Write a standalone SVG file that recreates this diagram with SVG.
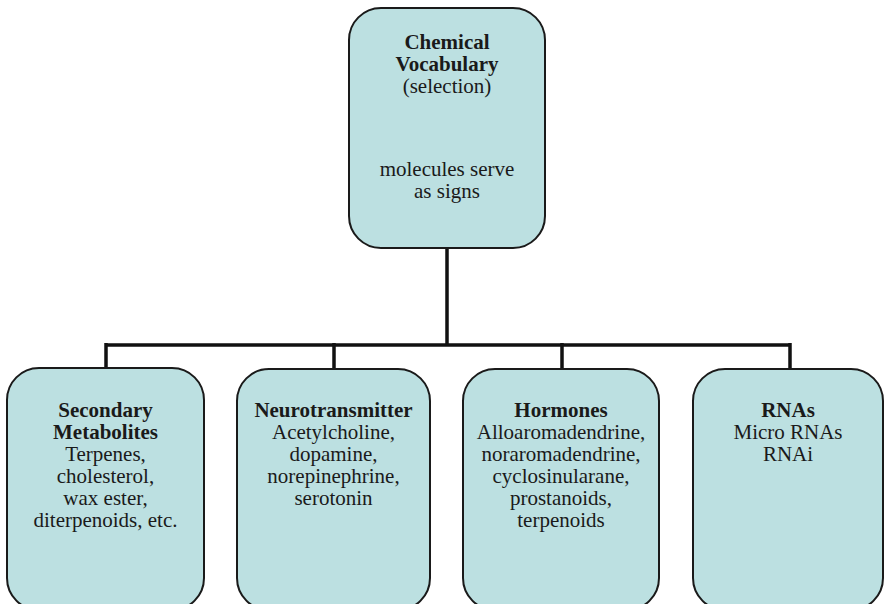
<svg xmlns="http://www.w3.org/2000/svg" width="885" height="604" viewBox="0 0 885 604">
<style>
.box{fill:#bce0e1;stroke:#1a1a1a;stroke-width:2}
.t{font-family:"Liberation Serif","Times New Roman",serif;font-size:21px;fill:#1a1a1a;text-anchor:middle}
.b{font-weight:bold}
.c{fill:none;stroke:#111;stroke-width:3.5}
</style>
<rect width="885" height="604" fill="#fff"/>
<g id="connectors">
<path class="c" d="M447 248V345M106 345H790M106 343V368M334 343V368M562 343V368M790 343V368"/>
</g>
<g id="top">
<rect class="box" x="349" y="8" width="196" height="240" rx="32"/>
<text class="t b" x="447" y="49">Chemical</text>
<text class="t b" x="447" y="71">Vocabulary</text>
<text class="t" x="447" y="93">(selection)</text>
<text class="t" x="447" y="176">molecules serve</text>
<text class="t" x="447" y="198">as signs</text>
</g>
<g id="secondary">
<rect class="box" x="7" y="368" width="197" height="242" rx="32"/>
<text class="t b" x="105.5" y="417">Secondary</text>
<text class="t b" x="105.5" y="439">Metabolites</text>
<text class="t" x="105.5" y="461">Terpenes,</text>
<text class="t" x="105.5" y="483">cholesterol,</text>
<text class="t" x="105.5" y="505">wax ester,</text>
<text class="t" x="105.5" y="527">diterpenoids, etc.</text>
</g>
<g id="neuro">
<rect class="box" x="237" y="369" width="193" height="241" rx="32"/>
<text class="t b" x="333.5" y="417">Neurotransmitter</text>
<text class="t" x="333.5" y="439">Acetylcholine,</text>
<text class="t" x="333.5" y="461">dopamine,</text>
<text class="t" x="333.5" y="483">norepinephrine,</text>
<text class="t" x="333.5" y="505">serotonin</text>
</g>
<g id="hormones">
<rect class="box" x="463" y="369" width="196" height="241" rx="32"/>
<text class="t b" x="561" y="417">Hormones</text>
<text class="t" x="561" y="439">Alloaromadendrine,</text>
<text class="t" x="561" y="461">noraromadendrine,</text>
<text class="t" x="561" y="483">cyclosinularane,</text>
<text class="t" x="561" y="505">prostanoids,</text>
<text class="t" x="561" y="527">terpenoids</text>
</g>
<g id="rnas">
<rect class="box" x="693" y="369" width="190" height="241" rx="32"/>
<text class="t b" x="788" y="417">RNAs</text>
<text class="t" x="788" y="439">Micro RNAs</text>
<text class="t" x="788" y="461">RNAi</text>
</g>
</svg>
